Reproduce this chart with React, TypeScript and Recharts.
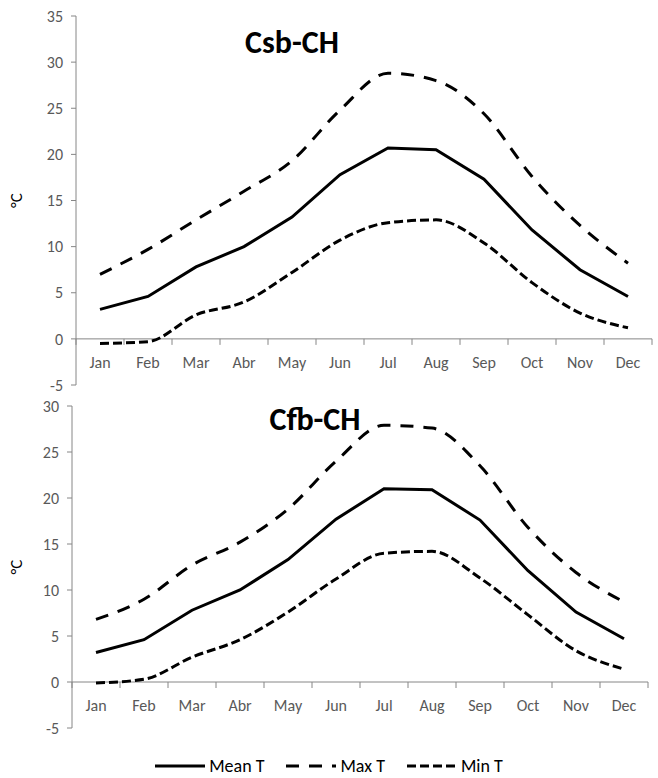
import React from "react";
import { LineChart, Line, XAxis, YAxis, ReferenceLine } from "recharts";

const months = ["Jan", "Feb", "Mar", "Abr", "May", "Jun", "Jul", "Aug", "Sep", "Oct", "Nov", "Dec"];

const csbMean = [3.2, 4.6, 7.8, 10.0, 13.2, 17.8, 20.7, 20.5, 17.3, 11.8, 7.5, 4.6];
const csbMax = [7.0, 9.7, 12.9, 16.0, 19.3, 24.8, 28.8, 28.0, 24.4, 17.6, 12.3, 8.2];
const csbMin = [-0.5, -0.3, 2.6, 4.0, 7.2, 10.7, 12.6, 12.9, 10.4, 6.1, 2.8, 1.2];

const cfbMean = [3.2, 4.6, 7.8, 10.0, 13.3, 17.7, 21.0, 20.9, 17.6, 12.1, 7.6, 4.7];
const cfbMax = [6.8, 9.0, 12.7, 15.2, 18.8, 24.0, 27.9, 27.6, 23.5, 16.8, 11.9, 8.7];
const cfbMin = [-0.1, 0.3, 2.7, 4.6, 7.6, 11.2, 14.0, 14.2, 11.3, 7.3, 3.4, 1.4];

const csbTicks = [-5, 0, 5, 10, 15, 20, 25, 30, 35];
const cfbTicks = [-5, 0, 5, 10, 15, 20, 25, 30];

const seriesNames = ["Mean T", "Max T", "Min T"];
const dashes = ["", "13 10", "9 4"];

const font = "Carlito, Lato, sans-serif";
const axisGray = "#868686";
const labelGray = "#595959";

const toRows = (mean: number[], max: number[], min: number[]) =>
  months.map((m, i) => ({ month: m, mean: mean[i], max: max[i], min: min[i] }));

const csbData = toRows(csbMean, csbMax, csbMin);
const cfbData = toRows(cfbMean, cfbMax, cfbMin);

// tick draws the month label under the zero line plus the category boundary marks
const makeTick = (zeroOffset: number, band: number) => (props: any) => {
  const { x, y, payload, index } = props;
  const zy = y - zeroOffset;
  return (
    <g>
      {index === 0 && <line x1={x - band / 2} x2={x - band / 2} y1={zy} y2={zy + 6} stroke={axisGray} />}
      <line x1={x + band / 2} x2={x + band / 2} y1={zy} y2={zy + 6} stroke={axisGray} />
      <text x={x} y={zy + 29} textAnchor="middle" fontSize={16} fill={labelGray} fontFamily={font}>
        {payload.value}
      </text>
    </g>
  );
};

const UnitLabel = (props: any) => {
  const { viewBox } = props;
  const cy = viewBox.y + viewBox.height / 2;
  return (
    <text x={22} y={cy} transform={`rotate(-90, 22, ${cy})`} textAnchor="middle" fontSize={17} fill="#000" fontFamily={font}>
      °C
    </text>
  );
};

interface IPanelProps {
  data: ReturnType<typeof toRows>;
  ticks: number[];
  top: number;
  height: number;
  margin: { top: number; right: number; bottom: number; left: number };
  yWidth: number;
  title: string;
  titleX: number;
  titleY: number;
}

const Panel: React.FC<IPanelProps> = ({ data, ticks, top, height, margin, yWidth, title, titleX, titleY }) => {
  const plotH = height - margin.top - margin.bottom - 1;
  const plotW = 658 - margin.left - margin.right - yWidth;
  const lo = ticks[0];
  const hi = ticks[ticks.length - 1];
  const zeroOffset = (plotH * (0 - lo)) / (hi - lo);
  const band = plotW / months.length;
  return (
    <div style={{ position: "absolute", left: 0, top, width: 658, height }}>
      <LineChart width={658} height={height} data={data} margin={margin}>
        <ReferenceLine y={0} stroke={axisGray} strokeWidth={1} />
        <XAxis
          dataKey="month"
          height={1}
          axisLine={false}
          tickLine={false}
          tickSize={0}
          tickMargin={0}
          interval={0}
          padding={{ left: band / 2, right: band / 2 }}
          tick={makeTick(zeroOffset, band)}
        />
        <YAxis
          width={yWidth}
          domain={[lo, hi]}
          ticks={ticks}
          interval={0}
          axisLine={{ stroke: axisGray }}
          tickLine={{ stroke: axisGray }}
          tickSize={5}
          tickMargin={8}
          tick={{ fontSize: 16, fill: labelGray, fontFamily: font }}
          label={<UnitLabel />}
        />
        <Line dataKey="mean" name={seriesNames[0]} stroke="#000" strokeWidth={3} dot={false} type="linear" isAnimationActive={false} />
        <Line dataKey="max" name={seriesNames[1]} stroke="#000" strokeWidth={3} strokeDasharray={dashes[1]} dot={false} type="monotone" isAnimationActive={false} />
        <Line dataKey="min" name={seriesNames[2]} stroke="#000" strokeWidth={3} strokeDasharray={dashes[2]} dot={false} type="monotone" isAnimationActive={false} />
      </LineChart>
      <div
        style={{
          position: "absolute",
          left: titleX - 90,
          top: titleY - 22,
          width: 180,
          height: 44,
          lineHeight: "44px",
          textAlign: "center",
          fontFamily: font,
          fontWeight: 700,
          fontSize: 32,
          color: "#000",
        }}
      >
        {title}
      </div>
    </div>
  );
};

const LegendRow: React.FC = () => (
  <div
    style={{
      position: "absolute",
      left: 0,
      top: 755,
      width: 658,
      display: "flex",
      justifyContent: "center",
      alignItems: "center",
      gap: 22,
      fontFamily: font,
      fontSize: 18,
      color: "#000",
    }}
  >
    {seriesNames.map((n, i) => (
      <div key={n} style={{ display: "flex", alignItems: "center", gap: 4 }}>
        <svg width={50} height={10}>
          <line x1={0} x2={50} y1={5} y2={5} stroke="#000" strokeWidth={3} strokeDasharray={dashes[i]} />
        </svg>
        <span>{n}</span>
      </div>
    ))}
  </div>
);

const App: React.FC = () => (
  <div style={{ position: "absolute", left: 0, top: 0, width: 658, height: 778, background: "#fff" }}>
    <Panel
      data={cfbData}
      ticks={cfbTicks}
      top={390}
      height={388}
      margin={{ top: 16, right: 10, bottom: 49, left: 0 }}
      yWidth={72}
      title="Cfb-CH"
      titleX={315}
      titleY={420 - 390}
    />
    <Panel
      data={csbData}
      ticks={csbTicks}
      top={0}
      height={398}
      margin={{ top: 16, right: 6, bottom: 12, left: 0 }}
      yWidth={76}
      title="Csb-CH"
      titleX={292}
      titleY={43}
    />
    <LegendRow />
  </div>
);

export default App;
